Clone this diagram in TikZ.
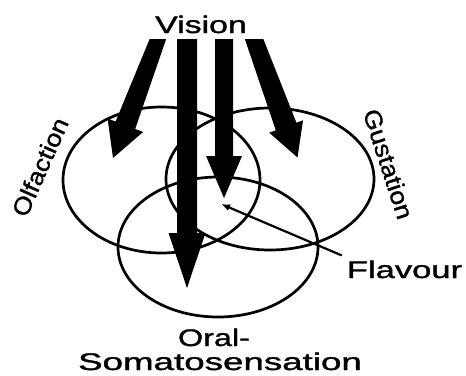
\documentclass[tikz,border=0pt]{standalone}
\usepackage{fontspec}
\setmainfont{Liberation Sans}[FakeBold=1.2]
\usepackage{graphicx}
\usetikzlibrary{calc,arrows.meta,shapes.geometric}

% #1 start, #2 tip, #3 top half width, #4 lower half width, #5 head half width, #6 head length
\newcommand\fatarrow[6]{%
  \coordinate (fa-b) at ($(#2)!#6!(#1)$);
  \coordinate (fa-e) at ($(#2)!1.06!(#1)$);
  \fill ($(fa-e)!#3!90:(#2)$) -- ($(fa-b)!#4!90:(#2)$) -- ($(fa-b)!#5!90:(#2)$) -- (#2)
    -- ($(fa-b)!#5!-90:(#2)$) -- ($(fa-b)!#4!-90:(#2)$) -- ($(fa-e)!#3!-90:(#2)$) -- cycle;
}

\begin{document}
\begin{tikzpicture}[x=1pt,y=-1pt,
  ring/.style={draw,ellipse,line width=2.7pt,inner sep=0pt},
  lbl/.style={inner sep=0pt,font=\fontsize{24}{28}\selectfont},
  pointer/.style={line width=2.2pt,-{Latex[length=9pt,width=7pt]}}]
\useasboundingbox[fill=white] (0,0) rectangle (466,375);

% circles
\node[ring,minimum width=197pt,minimum height=146pt] (olf) at (161.5,180) {};
\node[ring,minimum width=208pt,minimum height=142pt] (gus) at (270,179) {};
\node[ring,minimum width=200pt,minimum height=140pt] (oral) at (218,247) {};

% labels
\node[lbl,anchor=base] (vision) at (201,33) {\scalebox{1.41}[1]{Vision}};
\node[lbl,rotate=66] (olflbl) at (40,167) {\scalebox{1.11}[1]{Olfaction}};
\node[lbl,rotate=-72] (guslbl) at (388.5,164) {\scalebox{1.11}[1]{Gustation}};
\node[lbl,anchor=base] (flav) at (404.5,278) {\scalebox{1.44}[1]{Flavour}};
\node[lbl,anchor=base] (orallbl) at (214,346) {\scalebox{1.35}[1]{Oral-}};
\node[lbl,anchor=base] (somalbl) at (220,370) {\scalebox{1.53}[1]{Somatosensation}};

% vision arrows
\coordinate (a1s) at (158,39);   \coordinate (a1t) at (113,158);
\coordinate (a2s) at (187,39);   \coordinate (a2t) at (187,288);
\coordinate (a3s) at (224,39);   \coordinate (a3t) at (224,198);
\coordinate (a4s) at (254,39);   \coordinate (a4t) at (297.5,157.5);
\begin{scope}
  \clip (0,39) rectangle (466,375);
  \fatarrow{a1s}{a1t}{7.5pt}{10.5pt}{19pt}{35pt}
  \fatarrow{a2s}{a2t}{10pt}{10pt}{18.5pt}{55pt}
  \fatarrow{a3s}{a3t}{9pt}{9pt}{18pt}{42pt}
  \fatarrow{a4s}{a4t}{8.5pt}{11pt}{18pt}{33pt}
\end{scope}

% flavour pointer
\coordinate (flavpt) at (221,204);
\draw[pointer] ([shift={(-5,-5)}]flav.north west) -- (flavpt);
\end{tikzpicture}
\end{document}
